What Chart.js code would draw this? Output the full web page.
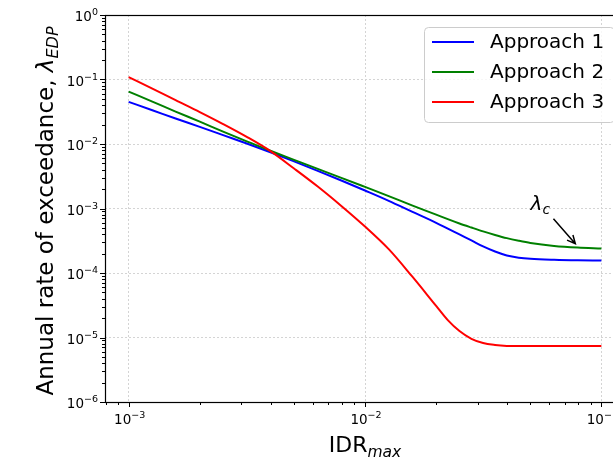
<!DOCTYPE html>
<html>
<head>
<meta charset="utf-8">
<script src="https://cdn.jsdelivr.net/npm/chart.js@4.4.0/dist/chart.umd.min.js"></script>
<style>
    html, body { margin: 0; padding: 0; background: #fff; overflow: hidden; }
    #wrap { width: 640px; height: 459px; }
</style>
</head>
<body>
<div id="wrap"><canvas id="chart" width="640" height="459"></canvas></div>
<script>
// IDR_max sample points (0.1 decade steps, denser around the knees)
const idrMax = [1.00e-3, 1.26e-3, 1.58e-3, 2.00e-3, 2.51e-3, 3.16e-3, 3.98e-3, 5.01e-3, 6.31e-3, 7.94e-3,
    1.00e-2, 1.26e-2, 1.58e-2, 2.00e-2, 2.24e-2, 2.51e-2, 2.82e-2, 3.16e-2, 3.55e-2, 3.98e-2,
    4.47e-2, 5.01e-2, 6.31e-2, 7.94e-2, 1.00e-1];

const approach1 = [0.0450, 0.0334, 0.0248, 0.01845, 0.01371, 0.01019, 0.00745, 0.00537, 0.00384, 0.00272,
    0.00190, 0.001315, 0.000895, 0.000600, 0.000488, 0.000396, 0.000320, 0.000258, 0.000215, 0.000187,
    0.000173, 0.000166, 0.000160, 0.000157, 0.000156];
const approach2 = [0.0650, 0.0454, 0.0318, 0.0222, 0.01556, 0.01096, 0.00785, 0.00568, 0.00411, 0.00299,
    0.00216, 0.001556, 0.001117, 0.000804, 0.000684, 0.000586, 0.000507, 0.000442, 0.000389, 0.000347,
    0.000316, 0.000292, 0.000263, 0.000248, 0.000240];
const approach3 = [0.1087, 0.0724, 0.0479, 0.0313, 0.0204, 0.01290, 0.00776, 0.00417, 0.00219, 0.001096,
    0.000525, 0.000234, 8.91e-5, 3.09e-5, 1.862e-5, 1.259e-5, 9.55e-6, 8.22e-6, 7.67e-6, 7.41e-6,
    7.36e-6, 7.35e-6, 7.35e-6, 7.35e-6, 7.35e-6];

const seriesLabels = ['Approach 1', 'Approach 2', 'Approach 3'];
const seriesColours = ['#0000ff', '#008000', '#ff0000'];

const xTickValues = [1e-3, 1e-2, 1e-1];
const xTickExponents = ['−3', '−2', '−1'];
const yTickValues = [1e-6, 1e-5, 1e-4, 1e-3, 1e-2, 1e-1, 1];
const yTickExponents = ['−6', '−5', '−4', '−3', '−2', '−1', '0'];

// lambda_c annotation (data coordinates)
const annotText = {x: 0.0552, y: 1.15e-3};
const annotArrowFrom = {x: 0.0627, y: 6.95e-4};
const annotArrowTo = {x: 0.0776, y: 2.85e-4};

const FONT = 'DejaVu Sans';

(function(){

    function findIndex(values, v) {
        return values.findIndex((t) => Math.abs(t - v) / t < 1e-6);
    }

    function logTicks(min, max) {
        const out = [];
        for (let e = Math.floor(Math.log10(min)); e <= Math.ceil(Math.log10(max)); e++) {
            for (let m = 1; m < 10; m++) {
                const v = m * Math.pow(10, e);
                if (v >= min * 0.9999 && v <= max * 1.0001) {
                    out.push({value: v, major: m === 1});
                }
            }
        }
        return out;
    }

    // draws a list of text runs, x is the anchor (center / right / left)
    function drawRuns(ctx, runs, x, y, align) {
        let total = 0;
        runs.forEach((r) => { ctx.font = r.font; r.w = ctx.measureText(r.text).width; total += r.w; });
        let cx = align === 'right' ? x - total : (align === 'left' ? x : x - total / 2);
        runs.forEach((r) => {
            ctx.font = r.font;
            ctx.fillText(r.text, cx, y + (r.dy || 0));
            cx += r.w;
        });
    }

    function powerLabel(exp) {
        return [
            {text: '10', font: '13.5px ' + FONT},
            {text: exp, font: '9.5px ' + FONT, dy: -6}
        ];
    }

    const axesPlugin = {
        id: 'axesDecor',
        afterDatasetsDraw(chart) {
            const ctx = chart.ctx;
            const a = chart.chartArea;
            const xs = chart.scales.x;
            const ys = chart.scales.y;
            ctx.save();
            ctx.strokeStyle = '#000';
            ctx.fillStyle = '#000';
            ctx.lineWidth = 1;
            // tick marks
            ctx.beginPath();
            xs.ticks.forEach((t) => {
                const px = Math.round(xs.getPixelForValue(t.value)) + 0.5;
                const len = t.major ? 5 : 3;
                ctx.moveTo(px, a.bottom);
                ctx.lineTo(px, a.bottom + len);
            });
            ys.ticks.forEach((t) => {
                const py = Math.round(ys.getPixelForValue(t.value)) + 0.5;
                const len = t.major ? 5 : 3;
                ctx.moveTo(a.left, py);
                ctx.lineTo(a.left - len, py);
            });
            ctx.stroke();
            // frame
            ctx.lineWidth = 1.2;
            ctx.strokeRect(Math.round(a.left) + 0.5, Math.round(a.top) + 0.5, a.right - a.left, a.bottom - a.top);

            // tick labels
            ctx.textBaseline = 'alphabetic';
            ctx.textAlign = 'left';
            xTickValues.forEach((v, i) => {
                drawRuns(ctx, powerLabel(xTickExponents[i]), xs.getPixelForValue(v) + 1, a.bottom + 22, 'center');
            });
            yTickValues.forEach((v, i) => {
                drawRuns(ctx, powerLabel(yTickExponents[i]), a.left - 7, ys.getPixelForValue(v) + 6, 'right');
            });

            // axis titles
            drawRuns(ctx, [
                {text: 'IDR', font: '22px ' + FONT},
                {text: 'max', font: 'italic 15.5px ' + FONT, dy: 5}
            ], 365, 452, 'center');

            ctx.save();
            ctx.translate(53, 211);
            ctx.rotate(-Math.PI / 2);
            drawRuns(ctx, [
                {text: 'Annual rate of exceedance, ', font: '23px ' + FONT},
                {text: 'λ', font: 'italic 23px ' + FONT},
                {text: 'EDP', font: 'italic 16px ' + FONT, dy: 5}
            ], 0, 0, 'center');
            ctx.restore();

            // lambda_c annotation
            const tx = xs.getPixelForValue(annotText.x);
            const ty = ys.getPixelForValue(annotText.y);
            drawRuns(ctx, [
                {text: 'λ', font: 'italic 20px ' + FONT},
                {text: 'c', font: 'italic 14px ' + FONT, dy: 4}
            ], tx, ty + 5, 'center');

            const x0 = xs.getPixelForValue(annotArrowFrom.x);
            const y0 = ys.getPixelForValue(annotArrowFrom.y);
            const x1 = xs.getPixelForValue(annotArrowTo.x);
            const y1 = ys.getPixelForValue(annotArrowTo.y);
            const ang = Math.atan2(y1 - y0, x1 - x0);
            ctx.lineWidth = 1.5;
            ctx.beginPath();
            ctx.moveTo(x0, y0);
            ctx.lineTo(x1, y1);
            ctx.moveTo(x1 - 9 * Math.cos(ang - 0.45), y1 - 9 * Math.sin(ang - 0.45));
            ctx.lineTo(x1, y1);
            ctx.lineTo(x1 - 9 * Math.cos(ang + 0.45), y1 - 9 * Math.sin(ang + 0.45));
            ctx.stroke();

            // legend
            const lx = 424, ly = 27, lw = 190, lh = 95;
            ctx.fillStyle = 'rgba(255,255,255,0.8)';
            ctx.strokeStyle = '#cccccc';
            ctx.lineWidth = 1;
            ctx.beginPath();
            ctx.roundRect(lx + 0.5, ly + 0.5, lw, lh, 4);
            ctx.fill();
            ctx.stroke();
            ctx.font = '20px ' + FONT;
            ctx.textBaseline = 'middle';
            chart.data.datasets.forEach((ds, i) => {
                const yy = ly + 15 + i * 30;
                ctx.strokeStyle = ds.borderColor;
                ctx.lineWidth = 2;
                ctx.beginPath();
                ctx.moveTo(432, yy);
                ctx.lineTo(474, yy);
                ctx.stroke();
                ctx.fillStyle = '#000';
                ctx.fillText(ds.label, 490, yy + 1);
            });
            ctx.restore();
        }
    };

    function makeDataset(i, values, order) {
        return {
            label: seriesLabels[i],
            data: idrMax.map((x, k) => ({x: x, y: values[k]})),
            borderColor: seriesColours[i],
            backgroundColor: seriesColours[i],
            borderWidth: 2,
            pointRadius: 0,
            fill: false,
            cubicInterpolationMode: 'monotone',
            order: order
        };
    }

    const ctx = document.getElementById('chart').getContext('2d');
    const myChart = new Chart(ctx, {
        type: 'line',
        data: {
            datasets: [
                makeDataset(0, approach1, 3),
                makeDataset(1, approach2, 2),
                makeDataset(2, approach3, 1)
            ]
        },
        options: {
            responsive: false,
            animation: false,
            devicePixelRatio: 1,
            layout: {
                padding: {top: 15, right: 15, left: 0, bottom: 0}
            },
            plugins: {
                legend: {display: false},
                tooltip: {enabled: false}
            },
            scales: {
                x: {
                    type: 'logarithmic',
                    min: Math.pow(10, -3.1),
                    max: Math.pow(10, -0.9),
                    afterBuildTicks: (scale) => { scale.ticks = logTicks(scale.min, scale.max); },
                    afterFit: (scale) => { scale.height = 57; },
                    border: {display: false, dash: [2, 2]},
                    grid: {
                        drawTicks: false,
                        lineWidth: 1,
                        color: (c) => (c.tick && findIndex(xTickValues, c.tick.value) >= 0) ? '#d4d4d4' : 'rgba(0,0,0,0)'
                    },
                    ticks: {display: false, autoSkip: false}
                },
                y: {
                    type: 'logarithmic',
                    min: 1e-6,
                    max: 1,
                    afterBuildTicks: (scale) => { scale.ticks = logTicks(scale.min, scale.max); },
                    afterFit: (scale) => { scale.width = 105; },
                    border: {display: false, dash: [2, 2]},
                    grid: {
                        drawTicks: false,
                        lineWidth: 1,
                        color: (c) => (c.tick && findIndex(yTickValues, c.tick.value) >= 0) ? '#d4d4d4' : 'rgba(0,0,0,0)'
                    },
                    ticks: {display: false, autoSkip: false}
                }
            }
        },
        plugins: [axesPlugin]
    });
})();
</script>
</body>
</html>
